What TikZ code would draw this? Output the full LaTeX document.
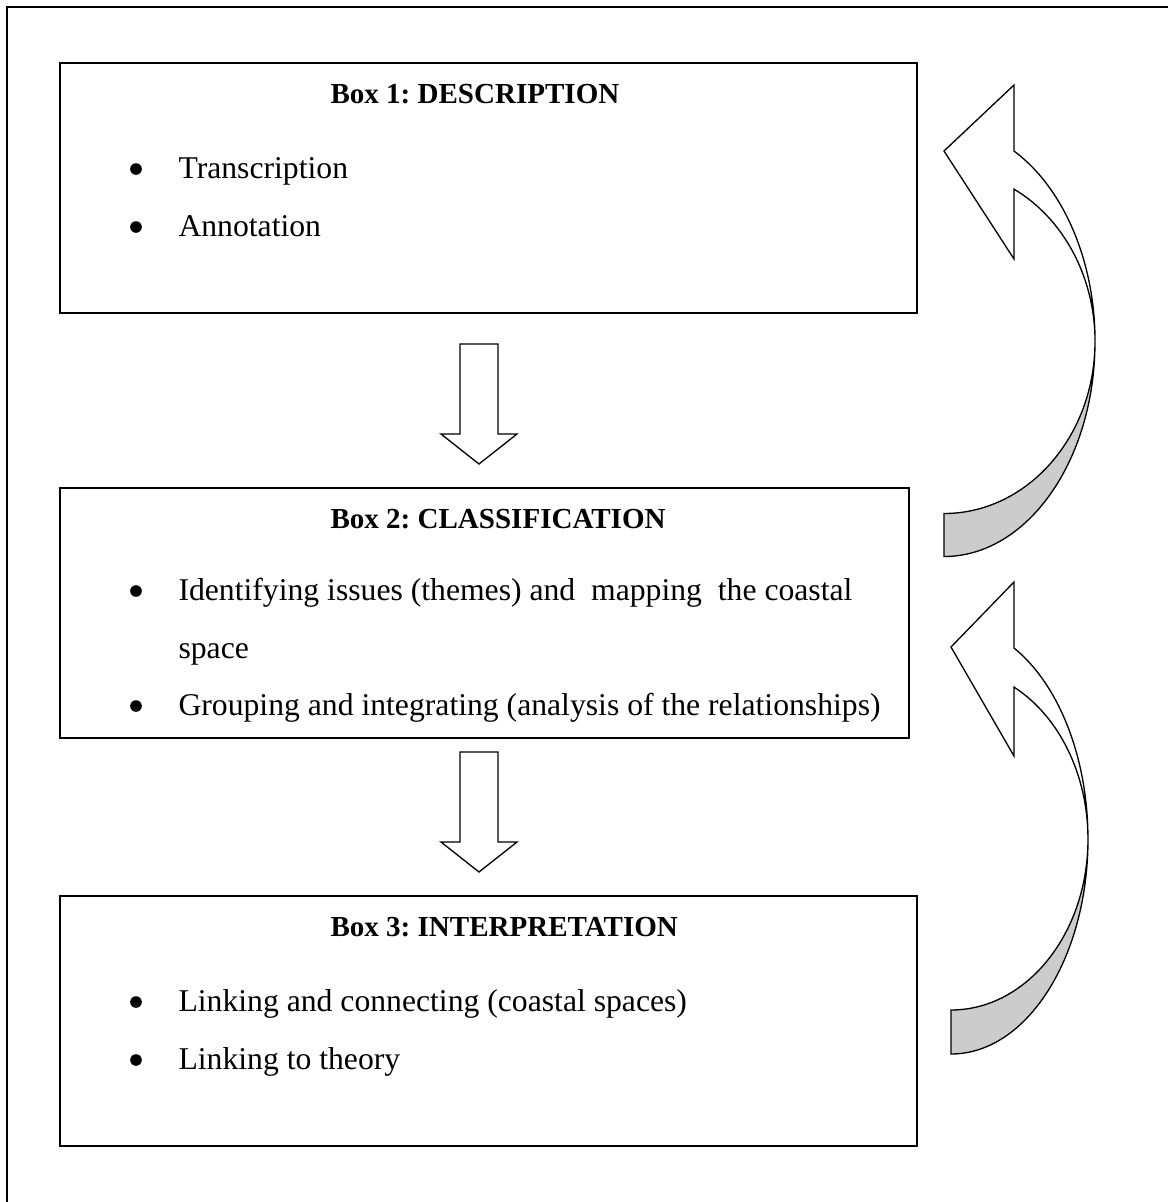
\documentclass[tikz,border=0pt,12pt]{standalone}
\usepackage{fontspec}
\setmainfont{Liberation Serif}
\frenchspacing
\tikzset{
  panel/.style={draw, line width=.75pt, inner sep=0pt, minimum height=94.7pt},
  heading/.style={anchor=base west, inner sep=0pt, font=\fontsize{11}{13}\selectfont\bfseries},
  item/.style={anchor=base west, inner sep=0pt},
  dot/.style={circle, fill, inner sep=0pt, minimum size=4.4pt},
  blockarrow/.style={draw, fill=white, line width=.5pt, line join=miter},
  backface/.style={draw, fill=black!20, line width=.5pt, line join=miter}
}
\begin{document}
\begin{tikzpicture}[x=.3788pt,y=-.3788pt]
\useasboundingbox (0,0) rectangle (1168,1202);
\draw[line width=.9pt] (7,1202) -- (7,7) -- (1168,7);

% the three boxes
\node[panel, minimum width=324.6pt] (desc) at (488.5,188) {};
\node[panel, minimum width=321.6pt] (class) at (484.5,612.5) {};
\node[panel, minimum width=324.6pt] (interp) at (488.5,1021) {};

\node[heading] (desct) at (330,103) {Box 1: DESCRIPTION};
\node[dot] (d1) at (136,169) {}; \node[item] (desca) at (178,178) {Transcription};
\node[dot] (d2) at (136,227) {}; \node[item] (descb) at (178,236) {Annotation};

\node[heading] (classt) at (330,528) {Box 2: CLASSIFICATION};
\node[dot] (c1) at (136,591) {}; \node[item] (classa) at (178,600) {Identifying issues (themes) and\ \ mapping\ \ the coastal};
\node[item] (classb) at (178,658) {space};
\node[dot] (c2) at (136,706) {}; \node[item] (classc) at (178,715) {Grouping and integrating (analysis of the relationships)};

\node[heading] (interpt) at (330,936) {Box 3: INTERPRETATION};
\node[dot] (i1) at (136,1002) {}; \node[item] (interpa) at (178,1011) {Linking and connecting (coastal spaces)};
\node[dot] (i2) at (136,1060) {}; \node[item] (interpb) at (178,1069) {Linking to theory};

% arrows down
\draw[blockarrow] (460,344) -- (498,344) -- (498,434) -- (517,434) -- (479,464) -- (441,434) -- (460,434) -- cycle;
\draw[blockarrow] (460,752) -- (498,752) -- (498,842) -- (517,842) -- (479,872) -- (441,842) -- (460,842) -- cycle;

% arrows back up
\draw[backface] (1095,341.5) arc[start angle=0, end angle=90, x radius=151, y radius=215]
  -- (944,513.5) arc[start angle=90, end angle=0, x radius=151, y radius=172] -- cycle;
\draw[blockarrow] (944,151) -- (1014,85) -- (1014,151)
  arc[start angle=-62.4, end angle=0, x radius=151, y radius=215]
  arc[start angle=0, end angle=-62.4, x radius=151, y radius=172] -- (1014,259) -- cycle;

\draw[backface] (1088,839) arc[start angle=0, end angle=90, x radius=137, y radius=215]
  -- (951,1010) arc[start angle=90, end angle=0, x radius=137, y radius=171] -- cycle;
\draw[blockarrow] (951,647) -- (1014,582) -- (1014,648)
  arc[start angle=-62.6, end angle=0, x radius=137, y radius=215]
  arc[start angle=0, end angle=-62.6, x radius=137, y radius=171] -- (1014,756) -- cycle;
\end{tikzpicture}
\end{document}
